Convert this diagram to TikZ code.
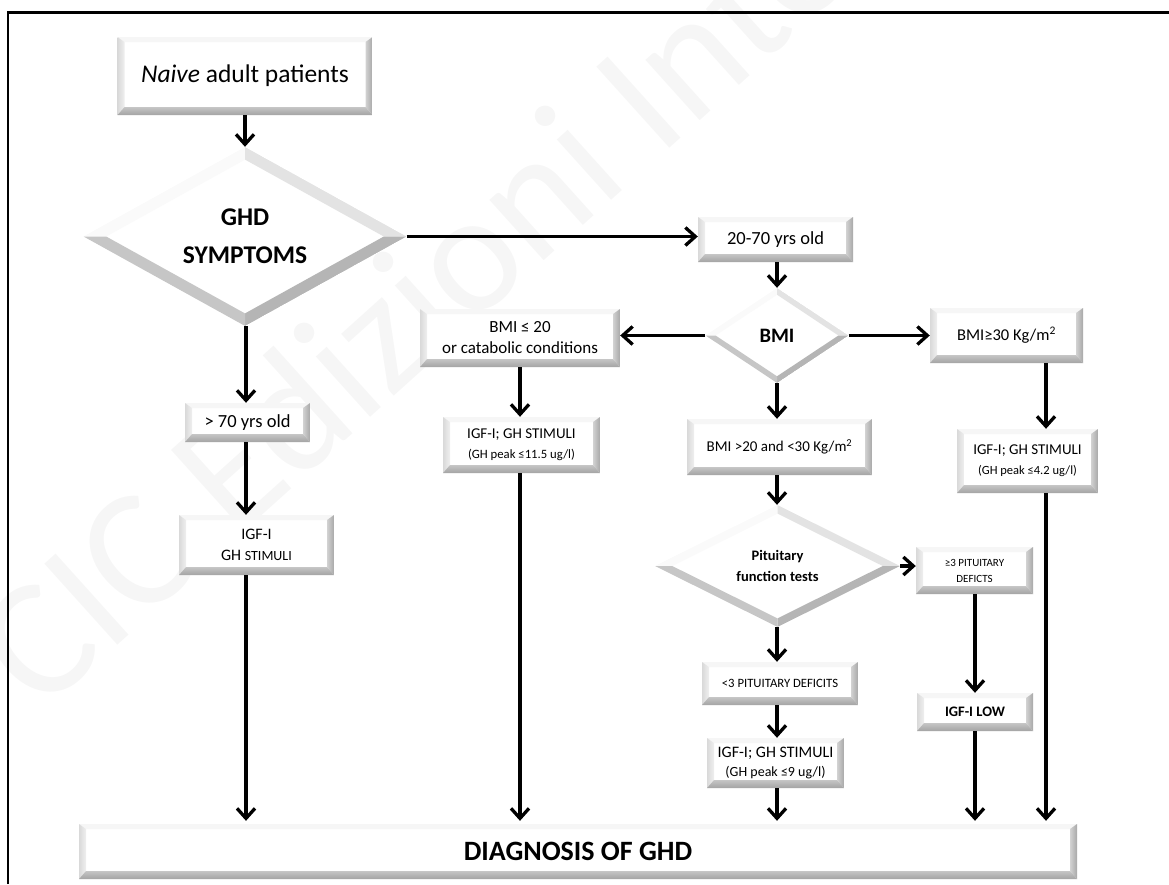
\documentclass[tikz,border=0pt]{standalone}
\usepackage{fontspec}
\setmainfont{Carlito}
\usetikzlibrary{shapes.geometric,arrows.meta,calc}
\tikzset{
  bevelbox/.style={rectangle, inner sep=0pt, align=center, fill=white,
    path picture={
      \coordinate (pNW) at (path picture bounding box.north west);
      \coordinate (pNE) at (path picture bounding box.north east);
      \coordinate (pSE) at (path picture bounding box.south east);
      \coordinate (pSW) at (path picture bounding box.south west);
      \coordinate (iNW) at ([xshift=7pt,yshift=-5pt]pNW);
      \coordinate (iNE) at ([xshift=-7pt,yshift=-5pt]pNE);
      \coordinate (iSE) at ([xshift=-7pt,yshift=8pt]pSE);
      \coordinate (iSW) at ([xshift=7pt,yshift=8pt]pSW);
      \fill[gray!7] (pNW) -- (pNE) -- (iNE) -- (iNW) -- cycle;
      \shade[left color=gray!30, right color=gray!12] (pNW) -- (iNW) -- (iSW) -- (pSW) -- cycle;
      \shade[left color=gray!35, right color=gray!68] (pNE) -- (pSE) -- (iSE) -- (iNE) -- cycle;
      \shade[top color=gray!45, bottom color=gray!72] (pSW) -- (pSE) -- (iSE) -- (iSW) -- cycle;
    }},
  bevelgem/.style={diamond, inner sep=0pt, align=center, fill=white,
    path picture={
      \coordinate (dC) at (path picture bounding box.center);
      \coordinate (dN) at (path picture bounding box.north);
      \coordinate (dE) at (path picture bounding box.east);
      \coordinate (dS) at (path picture bounding box.south);
      \coordinate (dW) at (path picture bounding box.west);
      \coordinate (jN) at ($(dC)!0.86!(dN)$);
      \coordinate (jE) at ($(dC)!0.86!(dE)$);
      \coordinate (jS) at ($(dC)!0.86!(dS)$);
      \coordinate (jW) at ($(dC)!0.86!(dW)$);
      \fill[gray!4] (dW) -- (dN) -- (jN) -- (jW) -- cycle;
      \fill[gray!22] (dN) -- (dE) -- (jE) -- (jN) -- cycle;
      \fill[gray!58] (dE) -- (dS) -- (jS) -- (jE) -- cycle;
      \fill[gray!45] (dS) -- (dW) -- (jW) -- (jS) -- cycle;
    }},
  arr/.style={line width=3.3pt, -{Straight Barb[length=10pt,width=18pt]}},
  frameline/.style={line width=2.4pt}
}
\begin{document}
\begin{tikzpicture}[x=1pt,y=-1pt]
\useasboundingbox (0,0) rectangle (1169,884);
% watermark
\begin{scope}
\clip (0,0) rectangle (1169,884);
\node[anchor=base west, rotate=42, text=gray!7, font=\fontsize{170}{170}\selectfont, inner sep=0pt] (wm) at (40,715) {CIC Edizioni Internazionali};
\end{scope}
\draw[frameline] (8,884) -- (8,12.5) -- (1169,12.5);

\coordinate (cL) at (246,0);
\coordinate (cM1) at (520,0);
\coordinate (cM2) at (777,0);
\coordinate (cR1) at (975,0);
\coordinate (cR2) at (1046,0);

\node[bevelbox, minimum width=255pt, minimum height=78pt, font=\fontsize{25.5}{30}\selectfont] (naive) at (245,76) {\itshape Naive\upshape{} adult patients};
\node[bevelgem, minimum width=323pt, minimum height=163pt, font=\fontsize{25.5}{38}\selectfont\bfseries] (ghd) at (245,236.5) {GHD\\SYMPTOMS};
\node[bevelbox, minimum width=155pt, minimum height=45pt, font=\fontsize{18.5}{22}\selectfont] (a2070) at (775.5,239.5) {20-70 yrs old};
\node[bevelgem, minimum width=143pt, minimum height=95pt, font=\fontsize{20.5}{24}\selectfont\bfseries] (bmi) at (777,335.5) {BMI};
\node[bevelbox, minimum width=200pt, minimum height=58pt, font=\fontsize{17}{21}\selectfont] (bmilo) at (520,338) {BMI ≤ 20\\or catabolic conditions};
\node[bevelbox, minimum width=153pt, minimum height=55pt, font=\fontsize{16.5}{20}\selectfont] (bmihi) at (1006.5,335.5) {BMI≥30 Kg/m\textsuperscript{2}};
\node[bevelbox, minimum width=141pt, minimum height=64pt, font=\fontsize{15}{20}\selectfont] (igfhi) at (1027.5,461) {IGF-I; GH STIMULI\\{\fontsize{12.5}{16}\selectfont (GH peak ≤4.2 ug/l)}};
\node[bevelbox, minimum width=125pt, minimum height=39pt, font=\fontsize{18.5}{22}\selectfont] (a70) at (247.5,422.5) {> 70 yrs old};
\node[bevelbox, minimum width=155pt, minimum height=60pt, font=\fontsize{16}{21}\selectfont] (igfold) at (256.5,545) {IGF-I\\GH {\fontsize{14}{21}\selectfont STIMULI}};
\node[bevelbox, minimum width=157pt, minimum height=56pt, font=\fontsize{15}{20}\selectfont] (igflo) at (521.5,445) {IGF-I; GH STIMULI\\{\fontsize{12.7}{16}\selectfont (GH peak ≤11.5 ug/l)}};
\node[bevelbox, minimum width=185pt, minimum height=56pt, font=\fontsize{15}{19}\selectfont] (bmimid) at (779.5,447) {BMI >20 and <30 Kg/m\textsuperscript{2}};
\node[bevelgem, minimum width=245pt, minimum height=122pt, font=\fontsize{14.5}{21}\selectfont\bfseries] (pit) at (777.5,566) {Pituitary\\function tests};
\node[bevelbox, minimum width=117pt, minimum height=47pt, font=\fontsize{11}{16}\selectfont] (ge3) at (974.5,570.5) {≥3 PITUITARY\\DEFICTS};
\node[bevelbox, minimum width=116pt, minimum height=38pt, font=\fontsize{14.5}{17}\selectfont\bfseries] (igflow) at (975,712) {IGF-I LOW};
\node[bevelbox, minimum width=156pt, minimum height=43pt, font=\fontsize{12.7}{16}\selectfont] (lt3) at (780,683.5) {<3 PITUITARY DEFICITS};
\node[bevelbox, minimum width=137pt, minimum height=50pt, font=\fontsize{16}{19}\selectfont] (igfmid) at (775.5,763) {IGF-I; GH STIMULI\\{\fontsize{14}{17}\selectfont (GH peak ≤9 ug/l)}};
\node[bevelbox, minimum width=998pt, minimum height=55pt, font=\fontsize{28}{32}\selectfont\bfseries] (diag) at (578,851.5) {DIAGNOSIS OF GHD};

% connectors
\draw[arr] (naive.south) -- (ghd.north);
\draw[arr] (ghd.east) -- (ghd.east -| a2070.west);
\draw[arr] (a2070.south -| cM2) -- (bmi.north -| cM2);
\draw[arr] (bmi.west) -- (bmi.west -| bmilo.east);
\draw[arr] (bmi.east) -- (bmi.east -| bmihi.west);
\draw[arr] (bmihi.south -| cR2) -- (igfhi.north -| cR2);
\draw[arr,shorten >=3pt] (igfhi.south -| cR2) -- (diag.north -| cR2);
\draw[arr] (ghd.south -| cL) -- (a70.north -| cL);
\draw[arr] (a70.south -| cL) -- (igfold.north -| cL);
\draw[arr,shorten >=3pt] (igfold.south -| cL) -- (diag.north -| cL);
\draw[arr] (bmilo.south -| cM1) -- (igflo.north -| cM1);
\draw[arr,shorten >=3pt] (igflo.south -| cM1) -- (diag.north -| cM1);
\draw[arr] (bmi.south -| cM2) -- (bmimid.north -| cM2);
\draw[arr] (bmimid.south -| cM2) -- (pit.north -| cM2);
\draw[arr] (pit.east) -- (pit.east -| ge3.west);
\draw[arr] (pit.south -| cM2) -- (lt3.north -| cM2);
\draw[arr] (lt3.south -| cM2) -- (igfmid.north -| cM2);
\draw[arr,shorten >=3pt] (igfmid.south -| cM2) -- (diag.north -| cM2);
\draw[arr] (ge3.south -| cR1) -- (igflow.north -| cR1);
\draw[arr,shorten >=3pt] (igflow.south -| cR1) -- (diag.north -| cR1);
\end{tikzpicture}
\end{document}
